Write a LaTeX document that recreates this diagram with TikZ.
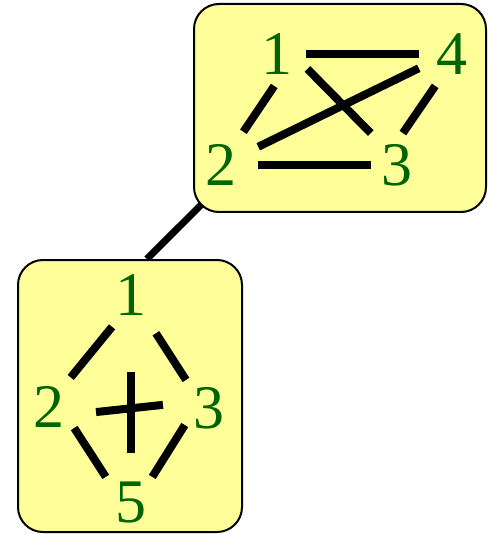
\documentclass[tikz,border=0pt]{standalone}
\usepackage{fontspec}
\setmainfont{Liberation Serif}
\usetikzlibrary{backgrounds}
\definecolor{pale}{RGB}{255,255,153}
\definecolor{vgreen}{RGB}{0,100,0}

\begin{document}
\begin{tikzpicture}[x=1pt, y=-1pt,
      panel/.style={rectangle, draw=black, line width=2pt,
                    rounded corners=25pt, fill=pale, inner sep=0pt},
      vert/.style={text=vgreen, font=\fontsize{62}{62}\selectfont,
                   inner sep=0pt, minimum width=31pt,
                   text height=42pt, text depth=0pt},
      bar/.style={line width=8pt},
      conn/.style={line width=7pt},
      ]
    \useasboundingbox (0,0) rectangle (488,534);
    % the two panels
    \node[panel, minimum width=292pt, minimum height=208pt] (top) at (340,108) {};
    \node[panel, minimum width=224pt, minimum height=272pt] (bot) at (130,396) {};
    \begin{scope}[on background layer]
      \draw[conn, shorten <=-15pt] (top.south west) -- (bot.83);
    \end{scope}

    % upper graph
    \node[vert] (t1) at (277,54) {1};
    \node[vert] (t4) at (452,54) {4};
    \node[vert] (t2) at (221,165) {2};
    \node[vert] (t3) at (397,165) {3};
    \draw[bar, shorten <=13.5pt, shorten >=17.5pt] (t1.east) -- (t4.west);
    \draw[bar, shorten <=21pt, shorten >=15pt] (t1.east) -- (t3.north west);
    \draw[bar, shorten <=24pt, shorten >=19.5pt] (t2.26) -- (t4.200);
    \draw[bar, shorten <=21.5pt, shorten >=10.5pt] (t2.east) -- (t3.west);
    \draw[bar, shorten <=13pt, shorten >=14.5pt] (t1.-78) -- (t2.56);
    \draw[bar, shorten <=13pt, shorten >=13pt] (t4.-114) -- (t3.94);

    % lower graph
    \node[vert] (b1) at (131,294) {1};
    \node[vert] (b2) at (49,406) {2};
    \node[vert] (b3) at (209,407) {3};
    \node[vert] (b5) at (131,501) {5};
    \draw[bar, shorten <=15pt, shorten >=9.5pt] (b1.-114) -- (b2.north east);
    \draw[bar, shorten <=21.5pt, shorten >=13.5pt] (b1.-58) -- (b3.135);
    \draw[bar, shorten <=17.5pt, shorten >=17.5pt] (b2.-25) -- (b5.149);
    \draw[bar, shorten <=16pt, shorten >=10.5pt] (b3.-164) -- (b5.44);
    \draw[bar, shorten <=57pt, shorten >=27pt] (b1.south) -- (b5.north);
    \draw[bar, shorten <=31.5pt, shorten >=30.5pt] (b2.-31) -- (b3.161);
  \end{tikzpicture}
\end{document}
